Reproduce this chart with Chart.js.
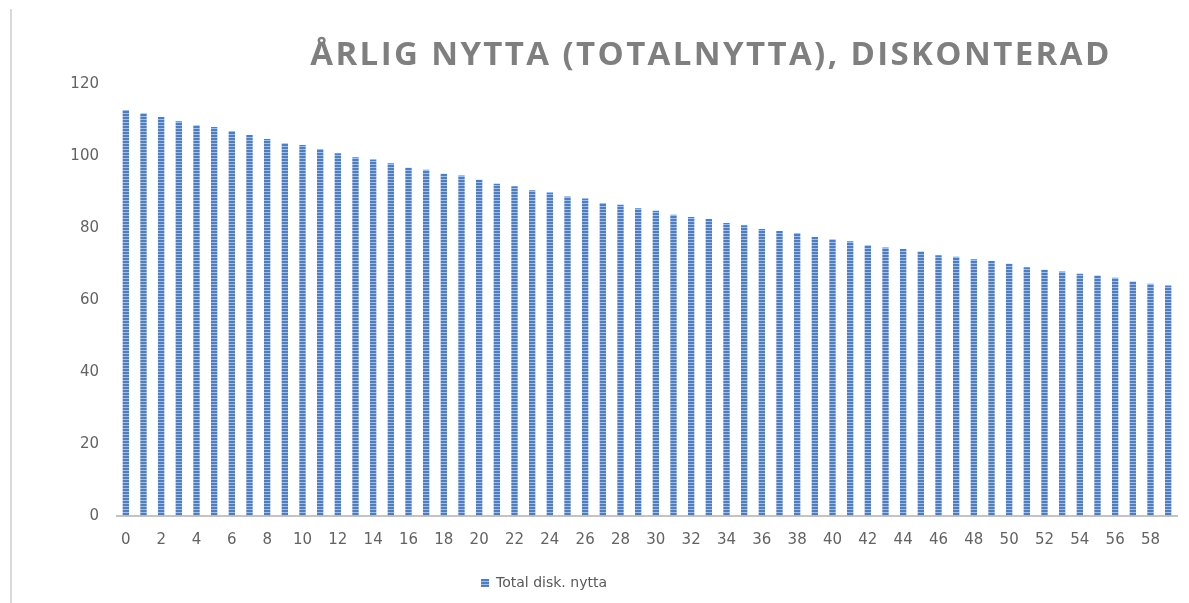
<!DOCTYPE html>
<html><head><meta charset="utf-8">
<script src="https://cdn.jsdelivr.net/npm/chart.js@4.4.1/dist/chart.umd.min.js"></script>
<style>
html,body{margin:0;padding:0;background:#fff;overflow:hidden}
#wrap{position:relative;width:1189px;height:603px}
#edge{position:absolute;left:10px;top:9px;width:2px;height:594px;background:#d9d9d9}
canvas{position:absolute;left:0;top:0}
</style></head><body>
<div id="wrap"><div id="edge"></div><canvas id="c" width="1189" height="603"></canvas></div>
<script>
const TITLE = 'ÅRLIG NYTTA (TOTALNYTTA), DISKONTERAD';
const SERIES_NAME = 'Total disk. nytta';
const YEARS = ['0','1','2','3','4','5','6','7','8','9','10','11','12','13','14','15','16','17','18','19',
  '20','21','22','23','24','25','26','27','28','29','30','31','32','33','34','35','36','37','38','39',
  '40','41','42','43','44','45','46','47','48','49','50','51','52','53','54','55','56','57','58','59'];
const VALUES = [112.9,112.0,111.0,109.8,108.7,108.2,107.1,106.0,104.9,103.7,
  103.2,102.1,100.9,99.8,99.2,98.1,96.9,96.3,95.2,94.7,
  93.5,92.4,91.7,90.6,90.0,88.9,88.3,87.1,86.6,85.6,
  84.9,83.8,83.2,82.6,81.5,80.9,79.8,79.3,78.7,77.6,
  77.0,76.4,75.3,74.7,74.3,73.6,72.5,72.1,71.4,70.9,
  70.2,69.2,68.5,68.0,67.4,66.9,66.3,65.2,64.6,64.1];
const Y_MIN = 0, Y_MAX = 120, Y_STEP = 20;

function stripes(){
  const c = document.createElement('canvas'); c.width = 4; c.height = 3;
  const g = c.getContext('2d');
  g.fillStyle = '#4f7dc1'; g.fillRect(0,0,4,3);
  g.fillStyle = '#a3bee6'; g.fillRect(0,2,4,1);
  return g.createPattern(c,'repeat');
}
const FILL = stripes();
const TITLE_FONT = 'bold 33px "Open Sans"';
const TITLE_CENTER = 711, TITLE_W = 799, LEGEND_CENTER = 544;

const shiftPlugin = {
  id:'shift',
  afterLayout(chart){
    const tb = chart.titleBlock;
    if (tb){
      const w = tb.right - tb.left;
      tb.left = TITLE_CENTER - w/2; tb.right = tb.left + w;
      if (!tb._wrapped){
        const orig = tb.draw;
        tb.draw = function(){
          const ctx = this.ctx;
          ctx.save();
          ctx.font = TITLE_FONT;
          const mw = ctx.measureText(TITLE).width;
          const sp = Math.max(0,(TITLE_W - mw)/(TITLE.length-1));
          ctx.letterSpacing = sp.toFixed(2)+'px';
          orig.call(this);
          ctx.restore();
        };
        tb._wrapped = true;
      }
    }
    const lg = chart.legend;
    if (lg){
      const w = lg.right - lg.left;
      lg.left = LEGEND_CENTER - w/2; lg.right = lg.left + w;
    }
  }
};

const TICK_FONT = {family:'"DejaVu Sans"',size:15};

new Chart(document.getElementById('c'), {
  type:'bar',
  data:{labels:YEARS, datasets:[{label:SERIES_NAME, data:VALUES, backgroundColor:FILL, borderWidth:0,
    barPercentage:0.36, categoryPercentage:1}]},
  plugins:[shiftPlugin],
  options:{
    responsive:false, animation:false, devicePixelRatio:1,
    layout:{padding:{left:0,right:12,top:0,bottom:3}},
    plugins:{
      title:{display:true,text:TITLE,color:'#7f7f7f',
        font:{family:'"Open Sans"',size:33,weight:'bold',lineHeight:1.2},padding:{top:36,bottom:9}},
      legend:{display:true,position:'bottom',
        labels:{boxWidth:8,boxHeight:8,padding:16,color:'#595959',font:{family:'"DejaVu Sans"',size:14}}},
      tooltip:{enabled:false}
    },
    scales:{
      x:{grid:{display:false,drawTicks:false},border:{display:true,color:'#c3c3c3',width:2},
        ticks:{autoSkip:false,maxRotation:0,padding:15,color:'#636363',font:TICK_FONT,
          callback:(v,i)=> (i%2===0 ? YEARS[i] : '')},
        afterFit:s=>{s.height=44;}},
      y:{min:Y_MIN,max:Y_MAX,grid:{display:false,drawTicks:false},border:{display:false},
        ticks:{stepSize:Y_STEP,padding:18,color:'#636363',font:TICK_FONT},
        afterFit:s=>{s.width=117;}}
    }
  }
});
</script></body></html>
